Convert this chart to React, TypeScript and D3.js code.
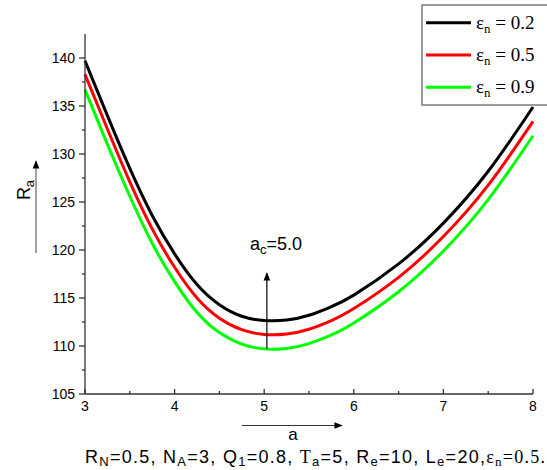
import React from 'react'
import * as d3 from 'd3'

const WAVE = [3, 3.25, 3.5, 3.75, 4, 4.25, 4.5, 4.75, 5, 5.25, 5.5, 5.75, 6, 6.5, 7, 7.5, 8]
const RA_02 = [139.7, 134.0, 128.5, 123.6, 119.6, 116.4, 114.3, 113.1, 112.65, 112.7, 113.2, 114.1, 115.3, 118.55, 122.8, 128.2, 134.9]
const RA_05 = [138.3, 132.6, 127.1, 122.2, 118.2, 115.0, 112.9, 111.7, 111.2, 111.25, 111.75, 112.65, 113.9, 117.15, 121.4, 126.75, 133.4]
const RA_09 = [136.7, 131.0, 125.6, 120.7, 116.7, 113.5, 111.4, 110.2, 109.7, 109.75, 110.25, 111.15, 112.4, 115.65, 119.9, 125.25, 131.9]
const EPS_LABELS = ['0.2', '0.5', '0.9']
const COLORS = ['#000000', '#ff0000', '#00ff00']
const X_TICKS = [3, 4, 5, 6, 7, 8]
const Y_TICKS = [105, 110, 115, 120, 125, 130, 135, 140]

const SANS = '"Liberation Sans", Arial, sans-serif'
const SERIF = '"Liberation Serif", "Times New Roman", serif'

const W = 547
const H = 470

export default function App() {
  const x = d3.scaleLinear().domain([3, 8]).range([85, 533])
  const y = d3.scaleLinear().domain([105, 142.5]).range([394, 34])

  const line = d3.line<[number, number]>()
    .x(d => x(d[0]))
    .y(d => y(d[1]))
    .curve(d3.curveNatural)

  const series = [RA_02, RA_05, RA_09]
  const xMinor = d3.range(3.5, 8, 1)
  const yMinor = d3.range(107.5, 142.5, 5)

  const ac = 5.03

  return (
    <svg width={W} height={H} style={{ position: 'absolute', left: 0, top: 0 }}>
      <defs>
        <marker id="arr" viewBox="0 0 10 10" refX="9" refY="5" markerWidth="7" markerHeight="7" orient="auto">
          <path d="M0,1 L10,5 L0,9 z" fill="#000" />
        </marker>
      </defs>
      <rect width={W} height={H} fill="#fff" />

      {series.map((s, i) => (
        <path
          key={i}
          d={line(WAVE.map((a, j) => [a, s[j]]) as [number, number][]) || ''}
          fill="none"
          stroke={COLORS[i]}
          strokeWidth={3}
        />
      ))}

      {/* axes */}
      <g stroke="#333" strokeWidth={1.3}>
        <line x1={x(3)} x2={x(3)} y1={34} y2={394} />
        <line x1={x(3)} x2={x(8)} y1={394} y2={394} />
        {Y_TICKS.map(t => <line key={t} x1={x(3) - 6} x2={x(3)} y1={y(t)} y2={y(t)} />)}
        {yMinor.map(t => <line key={t} x1={x(3) - 3} x2={x(3)} y1={y(t)} y2={y(t)} />)}
        {X_TICKS.map(t => <line key={t} x1={x(t)} x2={x(t)} y1={394} y2={389} />)}
        {xMinor.map(t => <line key={t} x1={x(t)} x2={x(t)} y1={394} y2={391} />)}
      </g>
      <g fontFamily={SANS} fontSize={14} fill="#000">
        {Y_TICKS.map(t => (
          <text key={t} x={x(3) - 10} y={y(t)} dy="0.35em" textAnchor="end">{t}</text>
        ))}
        {X_TICKS.map(t => (
          <text key={t} x={x(t)} y={411} textAnchor="middle">{t}</text>
        ))}
      </g>

      {/* y label */}
      <text transform="translate(30,190) rotate(-90)" fontFamily={SANS} fontSize={18} textAnchor="middle">
        R<tspan fontSize={13} dy="4">a</tspan>
      </text>
      <line x1={36} x2={36} y1={253} y2={161} stroke="#666" strokeWidth={1.2} markerEnd="url(#arr)" />

      {/* x label */}
      <line x1={242} x2={342} y1={425.5} y2={425.5} stroke="#333" strokeWidth={1.2} markerEnd="url(#arr)" />
      <text x={293} y={440} fontFamily={SANS} fontSize={17} textAnchor="middle">a</text>

      {/* annotation */}
      <line x1={x(ac)} x2={x(ac)} y1={y(109.7)} y2={273} stroke="#000" strokeWidth={1.2} markerEnd="url(#arr)" />
      <text x={250} y={250} fontFamily={SANS} fontSize={18}>
        a<tspan fontSize={13} dy="4">c</tspan><tspan dy="-4">=5.0</tspan>
      </text>

      {/* caption */}
      <text x={85} y={463} fontFamily={SANS} fontSize={18} textLength={460} lengthAdjust="spacing">
        R<tspan fontSize={13} dy="3">N</tspan>
        <tspan dy="-3">=0.5, N</tspan><tspan fontSize={13} dy="3">A</tspan>
        <tspan dy="-3">=3, Q</tspan><tspan fontSize={13} dy="3">1</tspan>
        <tspan dy="-3">=0.8, </tspan><tspan fontFamily={SERIF}>T</tspan><tspan fontSize={13} dy="3">a</tspan>
        <tspan dy="-3">=5, R</tspan><tspan fontSize={13} dy="3">e</tspan>
        <tspan dy="-3">=10, L</tspan><tspan fontSize={13} dy="3">e</tspan>
        <tspan dy="-3">=20,</tspan><tspan fontFamily={SERIF}>ε</tspan><tspan fontFamily={SERIF} fontSize={13} dy="3">n</tspan>
        <tspan fontFamily={SERIF} dy="-3">=0.5.</tspan>
      </text>

      {/* legend */}
      <rect x={422} y={5} width={140} height={100} fill="#fff" stroke="#666" strokeWidth={1.3} />
      {EPS_LABELS.map((lab, i) => {
        const ly = 22.7 + i * 32.3
        return (
          <g key={lab}>
            <line x1={426} x2={471} y1={ly} y2={ly} stroke={COLORS[i]} strokeWidth={3} />
            <text x={476} y={ly + 6} fontFamily={SERIF} fontSize={19}>
              ε<tspan fontSize={13} dy="4">n</tspan><tspan dy="-4"> = {lab}</tspan>
            </text>
          </g>
        )
      })}
    </svg>
  )
}
